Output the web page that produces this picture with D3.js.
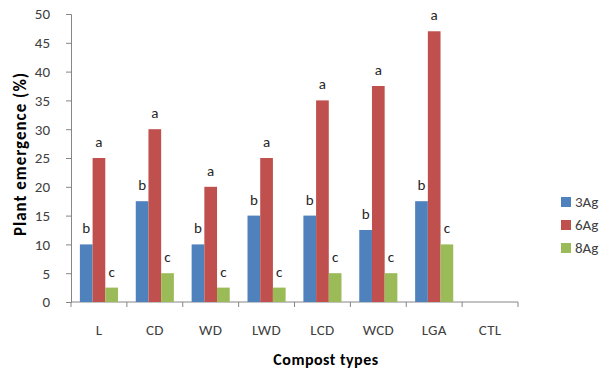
<!DOCTYPE html>
<html>
<head>
<meta charset="utf-8">
<script src="https://cdn.jsdelivr.net/npm/d3@7"></script>
<style>
  body { margin: 0; background: #fff; }
  text { font-family: Carlito, Calibri, Lato, sans-serif; }
</style>
</head>
<body>
<div id="vis"></div>
<script>
var categories = ["L", "CD", "WD", "LWD", "LCD", "WCD", "LGA", "CTL"];
var seriesNames = ["3Ag", "6Ag", "8Ag"];
var ag3 = [10, 17.5, 10, 15, 15, 12.5, 17.5, 0];
var ag6 = [25, 30, 20, 25, 35, 37.5, 47, 0];
var ag8 = [2.5, 5, 2.5, 2.5, 5, 5, 10, 0];
var letters = ["b", "a", "c"];
var yTicks = [0, 5, 10, 15, 20, 25, 30, 35, 40, 45, 50];
var colors = ["#4F81BD", "#C0504D", "#9BBB59"];

var width = 600, height = 373;
var margin = {top: 14, left: 71, right: 82, bottom: 71};

var svg = d3.select("#vis")
    .append("svg")
    .attr("width", width)
    .attr("height", height)

var series = [ag3, ag6, ag8];

var x = d3.scaleBand()
    .domain(categories)
    .range([margin.left, width - margin.right])

var xInner = d3.scaleBand()
    .domain(seriesNames)
    .range([0, x.bandwidth()])
    .paddingOuter(0.7)
    .paddingInner(0)

var y = d3.scaleLinear()
    .domain([0, 50])
    .range([height - margin.bottom, margin.top])

// y axis
var yAxis = svg.append("g")
    .attr("transform", "translate(" + margin.left + ",0)")
    .call(d3.axisLeft(y).tickValues(yTicks).tickSize(5).tickPadding(16))
yAxis.selectAll("path, line").attr("stroke", "#868686")
yAxis.selectAll("text").style("font-size", "15px").attr("fill", "#404040")

// x axis with ticks between categories
var xAxis = svg.append("g")
    .attr("transform", "translate(0," + (height - margin.bottom) + ")")
xAxis.append("line")
    .attr("x1", margin.left).attr("x2", width - margin.right)
    .attr("stroke", "#868686")
xAxis.selectAll(".tk")
    .data(categories.concat(["end"]))
    .join("line")
    .attr("x1", (d, i) => margin.left + i * x.step())
    .attr("x2", (d, i) => margin.left + i * x.step())
    .attr("y1", 0).attr("y2", 5)
    .attr("stroke", "#868686")
xAxis.selectAll(".lbl")
    .data(categories)
    .join("text")
    .attr("x", d => x(d) + x.bandwidth() / 2)
    .attr("y", 33)
    .attr("text-anchor", "middle")
    .attr("fill", "#404040")
    .style("font-size", "15px")
    .style("letter-spacing", "0.3px")
    .text(d => d)

// bars
series.forEach(function(vals, s) {
    var g = svg.append("g")
    var data = categories.map((c, i) => ({cat: c, v: vals[i]})).filter(d => d.v > 0)
    g.selectAll("rect")
        .data(data)
        .join("rect")
        .attr("x", d => x(d.cat) + xInner(seriesNames[s]))
        .attr("width", xInner.bandwidth())
        .attr("y", d => y(d.v))
        .attr("height", d => y(0) - y(d.v))
        .attr("fill", colors[s])
    g.selectAll("text")
        .data(data)
        .join("text")
        .attr("x", d => x(d.cat) + xInner(seriesNames[s]) + xInner.bandwidth() / 2)
        .attr("y", d => y(d.v) - 11)
        .attr("text-anchor", "middle")
        .attr("fill", "#262626")
        .style("font-size", "15px")
        .text(letters[s])
})

// axis titles
svg.append("text")
    .attr("transform", "translate(26,154) rotate(-90)")
    .attr("text-anchor", "middle")
    .style("font-size", "17px")
    .style("font-weight", "bold")
    .style("letter-spacing", "1px")
    .attr("fill", "#000")
    .text("Plant emergence (%)")

svg.append("text")
    .attr("x", 326)
    .attr("y", 365)
    .attr("text-anchor", "middle")
    .style("font-size", "16px")
    .style("font-weight", "bold")
    .style("letter-spacing", "0.5px")
    .attr("fill", "#000")
    .text("Compost types")

// legend
var legend = svg.selectAll(".legend")
    .data(seriesNames)
    .join("g")
    .attr("transform", (d, i) => "translate(561," + (197 + i * 23) + ")")
legend.append("rect")
    .attr("width", 10).attr("height", 10)
    .attr("fill", (d, i) => colors[i])
legend.append("text")
    .attr("x", 14).attr("y", 10)
    .style("font-size", "15px")
    .attr("fill", "#404040")
    .text(d => d)
</script>
</body>
</html>
